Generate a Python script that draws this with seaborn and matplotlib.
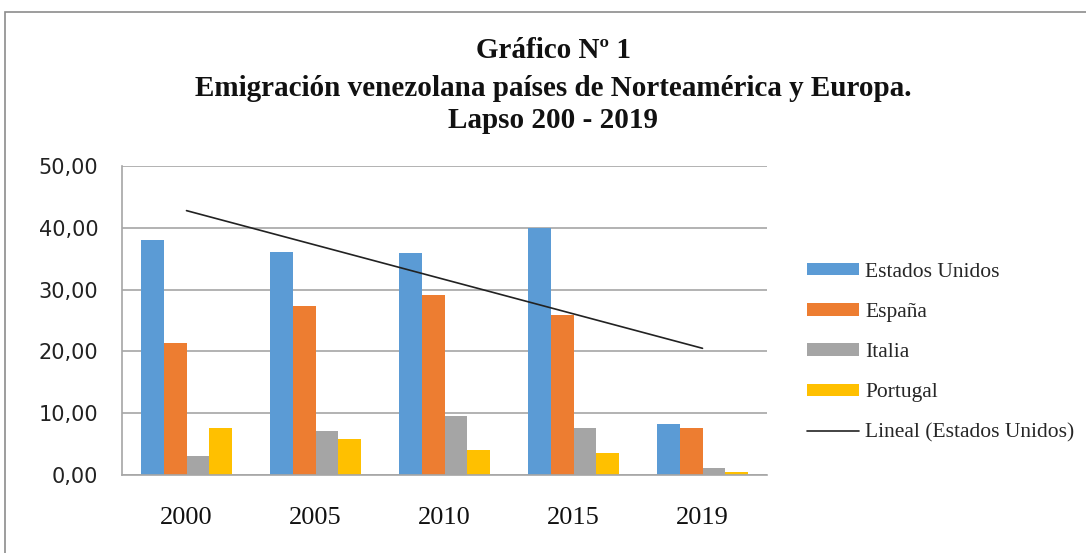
import numpy as np
import pandas as pd
import matplotlib
matplotlib.use("Agg")
import matplotlib.pyplot as plt
import seaborn as sns
from matplotlib.patches import Patch, Rectangle
from matplotlib.lines import Line2D
from matplotlib.ticker import FuncFormatter

years = ["2000", "2005", "2010", "2015", "2019"]
countries = ["Estados Unidos", "España", "Italia", "Portugal"]
estados_unidos = [38.0, 36.1, 35.9, 40.0, 8.2]
espana = [21.3, 27.4, 29.2, 25.9, 7.6]
italia = [3.0, 7.1, 9.6, 7.6, 1.1]
portugal = [7.6, 5.9, 4.0, 3.6, 0.5]
colors = ["#5B9BD5", "#ED7D31", "#A5A5A5", "#FFC000"]
title_lines = ["Gráfico Nº 1",
               "Emigración venezolana países de Norteamérica y Europa.",
               "Lapso 200 - 2019"]
trend_label = "Lineal (Estados Unidos)"

series = [estados_unidos, espana, italia, portugal]
df = pd.DataFrame([(y, c, v) for c, vals in zip(countries, series)
                   for y, v in zip(years, vals)],
                  columns=["year", "country", "value"])

sns.set_style("white")
plt.rcParams['font.family'] = ['DejaVu Sans']

W, H = 1086, 553
fig = plt.figure(figsize=(W / 100, H / 100), dpi=100)
ax = fig.add_axes([122 / W, 1 - 475 / H, (767 - 122) / W, (475 - 166) / H])

sns.barplot(data=df, x="year", y="value", hue="country", order=years,
            hue_order=countries, palette=colors, width=0.71, gap=0,
            saturation=1, ax=ax, legend=False, linewidth=0)

sns.regplot(x=np.arange(len(years)), y=np.array(estados_unidos), scatter=False,
            ci=None, color="#222222", line_kws={"linewidth": 1.2}, ax=ax,
            truncate=True)

ax.set_ylim(0, 50)
ax.set_xlim(-0.5, len(years) - 0.5)
ax.set_yticks(np.arange(0, 51, 10))
ax.yaxis.set_major_formatter(FuncFormatter(lambda v, p: f"{v:.2f}".replace(".", ",")))
ax.set_xticks(range(len(years)))
ax.set_xticklabels(years, fontfamily="Liberation Serif", fontsize=19)
ax.tick_params(axis="y", length=0, pad=17, labelsize=15, labelcolor="#222222")
ax.tick_params(axis="x", length=0, pad=23, labelcolor="#111111")
ax.set_xlabel("")
ax.set_ylabel("")
ax.grid(axis="y", color="#A6A6A6", linewidth=1.2)
ax.set_axisbelow(True)
for s in ["top", "right"]:
    ax.spines[s].set_visible(False)
for s in ["left", "bottom"]:
    ax.spines[s].set_color("#A6A6A6")
    ax.spines[s].set_linewidth(1.2)

# Titles
ys = [51, 88, 120]
for line, yy in zip(title_lines, ys):
    fig.text(553 / W, 1 - yy / H, line, ha="center", va="center",
             fontfamily="Liberation Serif", fontweight="bold", fontsize=21,
             color="#111111")

# Legend
handles = [Patch(facecolor=c, edgecolor="none") for c in colors]
handles.append(Line2D([0], [0], color="#222222", linewidth=1.2))
labels = countries + [trend_label]
fig.legend(handles, labels, loc="upper left",
           bbox_to_anchor=(807 / W, 1 - 263 / H), frameon=False,
           prop={"family": "Liberation Serif", "size": 15.5},
           handlelength=2.4, handleheight=0.5, handletextpad=0.3,
           labelspacing=0.98, borderpad=0, borderaxespad=0)

# Chart border
fig.patches.append(Rectangle((5 / W, -0.1), 1.2, 1 - 11.5 / H + 0.1,
                             transform=fig.transFigure, fill=False,
                             edgecolor="#8C8C8C", linewidth=1.2))

fig.savefig("out.png", dpi=100)
